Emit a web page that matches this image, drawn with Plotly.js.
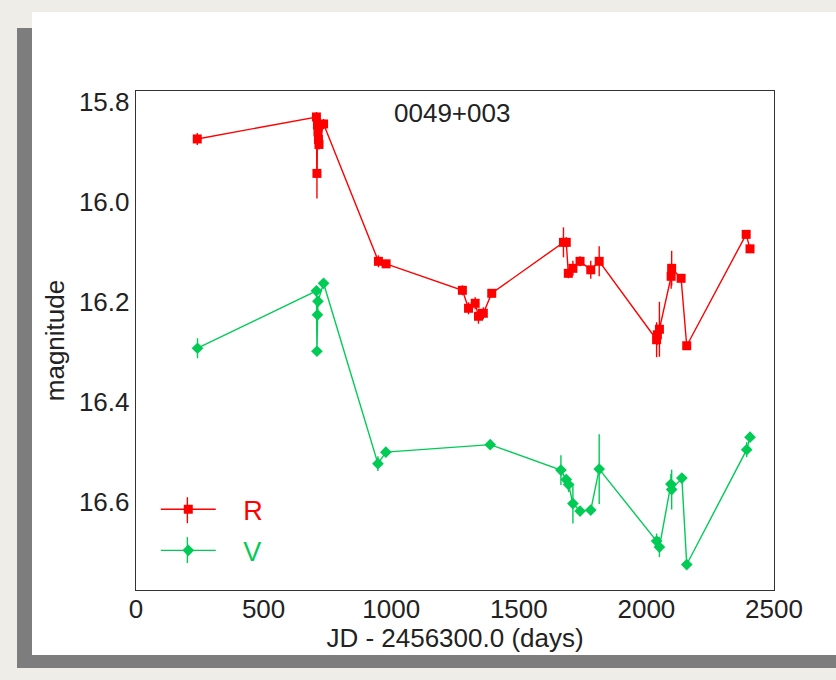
<!DOCTYPE html>
<html>
<head>
<meta charset="utf-8">
<script src="https://cdn.plot.ly/plotly-3.0.1.min.js"></script>
<style>
  html, body { margin:0; padding:0; width:836px; height:680px; overflow:hidden; background:#efede8; }
  #shadow { position:absolute; left:17px; top:28px; width:819px; height:640px; background:#7d7d7d; }
  #panel { position:absolute; left:32px; top:12px; width:804px; height:643px; background:#ffffff; }
  #chart { position:absolute; left:0; top:0; width:804px; height:643px; }
</style>
</head>
<body>
<div id="shadow"></div>
<div id="panel"><div id="chart"></div></div>
<script>
// R band
const rDays = [240, 707, 709, 711, 713, 715, 717, 735, 950, 980, 1279, 1303, 1329, 1342, 1361, 1394,
               1675, 1686, 1694, 1712, 1740, 1782, 1815, 2040, 2043, 2051, 2097, 2099, 2136, 2158, 2391, 2406];
const rMag  = [15.874, 15.830, 15.943, 15.846, 15.860, 15.875, 15.885, 15.844, 16.119, 16.124, 16.177, 16.213, 16.203, 16.229, 16.223, 16.183,
               16.081, 16.081, 16.143, 16.133, 16.119, 16.136, 16.119, 16.276, 16.266, 16.255, 16.149, 16.133, 16.153, 16.288, 16.065, 16.094];
const rErr  = [0.012, 0.010, 0.050, 0.010, 0.010, 0.010, 0.010, 0.010, 0.012, 0.008, 0.010, 0.012, 0.012, 0.015, 0.012, 0.008,
               0.030, 0.010, 0.010, 0.015, 0.010, 0.018, 0.030, 0.035, 0.020, 0.055, 0.025, 0.035, 0.008, 0.008, 0.008, 0.008];
// V band
const vDays = [241, 707, 709, 711, 713, 735, 948, 979, 1388, 1665, 1686, 1695, 1712, 1740, 1782, 1815,
               2040, 2051, 2096, 2099, 2139, 2158, 2393, 2406];
const vMag  = [16.293, 16.178, 16.299, 16.226, 16.199, 16.163, 16.524, 16.501, 16.486, 16.537, 16.556, 16.566, 16.604, 16.619, 16.617, 16.535,
               16.679, 16.691, 16.565, 16.576, 16.553, 16.726, 16.496, 16.471];
const vErr  = [0.020, 0.010, 0.008, 0.010, 0.010, 0.008, 0.015, 0.008, 0.008, 0.030, 0.010, 0.015, 0.040, 0.008, 0.008, 0.070,
               0.015, 0.020, 0.020, 0.040, 0.008, 0.008, 0.015, 0.008];
const yTicks = [15.8, 16.0, 16.2, 16.4, 16.6];
const xTicks = [0, 500, 1000, 1500, 2000, 2500];
const objectName = "0049+003";
const rColor = "#ff0000";
const vColor = "#00cc55";

const FONT = "Liberation Sans, Arial, sans-serif";
const PAD = "\u00a0\u00a0\u00a0";

const traces = [
  {
    x: rDays, y: rMag, type: "scatter", mode: "lines+markers",
    name: PAD + '<span style="color:' + rColor + '">R</span>',
    legendgroup: "r",
    line: {color: rColor, width: 1.4},
    marker: {symbol: "square", size: 9, color: rColor},
    error_y: {type: "data", array: rErr, visible: true, color: rColor, thickness: 1.4, width: 0}
  },
  {
    x: vDays, y: vMag, type: "scatter", mode: "lines+markers",
    name: PAD + '<span style="color:' + vColor + '">V</span>',
    legendgroup: "v",
    line: {color: vColor, width: 1.4},
    marker: {symbol: "diamond", size: 9, color: vColor},
    error_y: {type: "data", array: vErr, visible: true, color: vColor, thickness: 1.4, width: 0}
  }
];

// small vertical "error bar" strokes drawn through the legend symbols
const legendBars = [
  {type: "line", xref: "paper", yref: "paper", x0: 0.0805, x1: 0.0805, y0: 0.134, y1: 0.186, line: {color: rColor, width: 1.4}},
  {type: "line", xref: "paper", yref: "paper", x0: 0.0805, x1: 0.0805, y0: 0.054, y1: 0.106, line: {color: vColor, width: 1.4}}
];

const layout = {
  width: 804, height: 643,
  paper_bgcolor: "#ffffff", plot_bgcolor: "#ffffff",
  margin: {l: 104, r: 62, t: 79, b: 65},
  font: {family: FONT, size: 26, color: "#222222"},
  showlegend: true,
  legend: {
    x: 0.031, y: 0.21, xanchor: "left", yanchor: "top",
    bgcolor: "rgba(0,0,0,0)", borderwidth: 0,
    font: {family: FONT, size: 27},
    itemwidth: 55, tracegroupgap: 3
  },
  shapes: legendBars,
  xaxis: {
    range: [0, 2500], tickvals: xTicks, ticktext: xTicks.map(String),
    showline: true, mirror: true, linecolor: "#333333", linewidth: 1.3,
    showgrid: false, zeroline: false, ticks: "", ticklabelstandoff: -5,
    tickfont: {family: FONT, size: 26, color: "#222222"},
    title: {text: "JD - 2456300.0 (days)", font: {family: FONT, size: 26, color: "#222222"}, standoff: 6}
  },
  yaxis: {
    range: [16.777, 15.778], tickvals: yTicks, ticktext: yTicks.map(v => v.toFixed(1)),
    showline: true, mirror: true, linecolor: "#333333", linewidth: 1.3,
    showgrid: false, zeroline: false, ticks: "",
    tickfont: {family: FONT, size: 26, color: "#222222"},
    title: {text: "magnitude", font: {family: FONT, size: 26, color: "#222222"}, standoff: 6}
  },
  annotations: [{
    text: objectName, xref: "paper", yref: "paper", x: 0.496, y: 0.956,
    xanchor: "center", yanchor: "middle", showarrow: false,
    font: {family: FONT, size: 26, color: "#222222"}
  }]
};

Plotly.newPlot("chart", traces, layout, {displayModeBar: false, staticPlot: true});
</script>
</body>
</html>
